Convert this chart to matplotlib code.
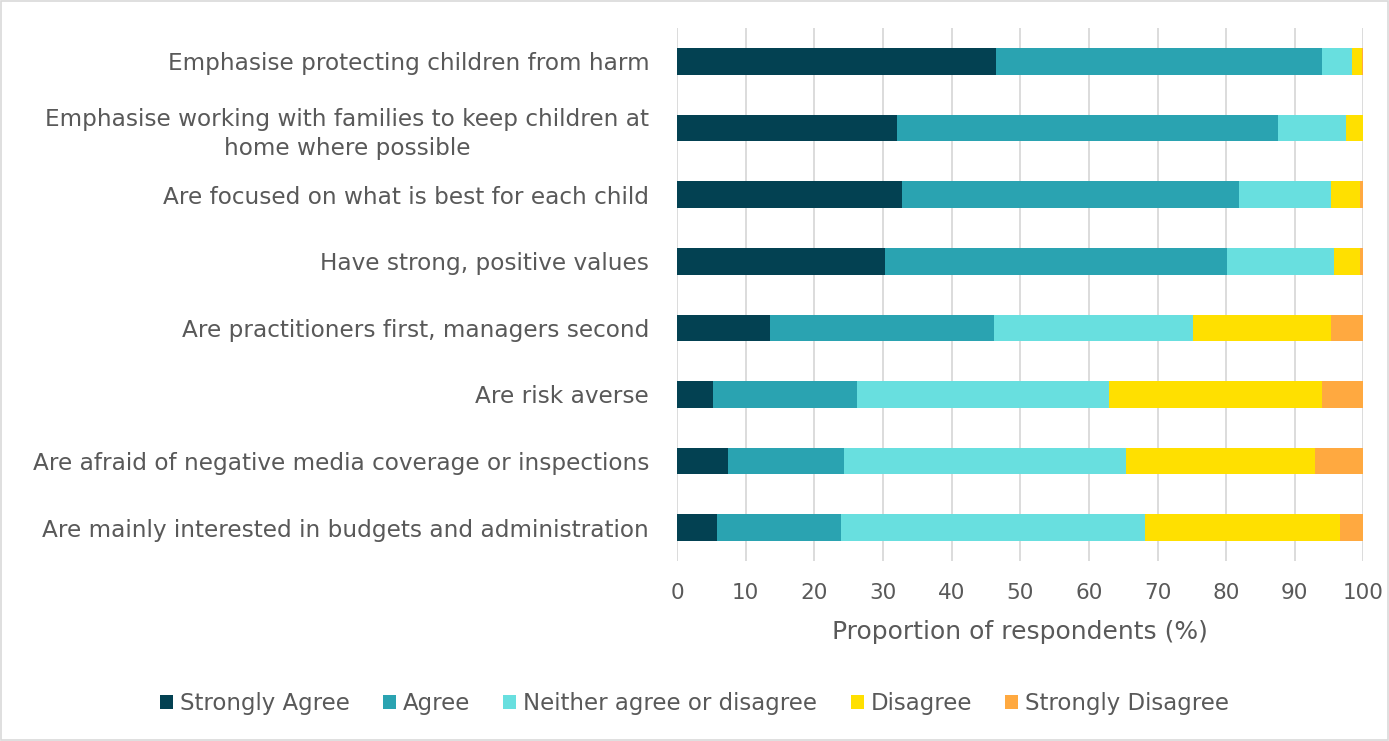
import numpy as np
import matplotlib.pyplot as plt
from matplotlib.patches import Rectangle

plt.rcParams['font.family'] = ['DejaVu Sans']

# categories, top to bottom
statements = [
    "Emphasise protecting children from harm",
    "Emphasise working with families to keep children at\nhome where possible",
    "Are focused on what is best for each child",
    "Have strong, positive values",
    "Are practitioners first, managers second",
    "Are risk averse",
    "Are afraid of negative media coverage or inspections",
    "Are mainly interested in budgets and administration",
]

# proportion of respondents (%) per response
strongly_agree = [46.5, 32.1, 32.8, 30.3, 13.6, 5.3, 7.4, 5.9]
agree = [47.4, 55.5, 49.0, 49.8, 32.6, 20.9, 17.0, 18.0]
neither = [4.4, 9.9, 13.5, 15.6, 28.9, 36.8, 41.0, 44.3]
disagree = [1.5, 2.5, 4.2, 3.8, 20.2, 31.0, 27.6, 28.4]
strongly_disagree = [0.2, 0.0, 0.5, 0.5, 4.7, 6.0, 7.0, 3.4]

series_names = ["Strongly Agree", "Agree", "Neither agree or disagree",
                "Disagree", "Strongly Disagree"]
colors = ["#034152", "#2AA3B1", "#68DFDF", "#FFE000", "#FFA940"]
text_col = "#595959"

fig = plt.figure(figsize=(13.89, 7.41), dpi=100)
ax = fig.add_axes([0.4874, 0.243, 0.4942, 0.719])

y = np.arange(len(statements))
left = np.zeros(len(statements))
for vals, name, c in zip([strongly_agree, agree, neither, disagree, strongly_disagree],
                         series_names, colors):
    ax.barh(y, vals, left=left, height=0.4, color=c, label=name)
    left += np.array(vals)

ax.set_ylim(len(statements) - 0.5, -0.5)
ax.set_xlim(0, 100)
ax.set_xticks(range(0, 101, 10))
ax.set_yticks(y)
ax.set_yticklabels(statements, multialignment='center', fontsize=16.7, linespacing=1.35)
ax.tick_params(axis='both', length=0, labelcolor=text_col)
ax.tick_params(axis='x', labelsize=15.5, pad=16)
ax.tick_params(axis='y', pad=20)
ax.xaxis.grid(True, color="#D9D9D9", linewidth=1.3)
ax.set_axisbelow(True)
for s in ax.spines.values():
    s.set_visible(False)
ax.set_xlabel("Proportion of respondents (%)", fontsize=18, color=text_col, labelpad=12)

leg = fig.legend(loc='center', bbox_to_anchor=(0.5, 0.051), ncol=5, frameon=False,
                 fontsize=16.5, handlelength=0.57, handleheight=0.57, handletextpad=0.3,
                 columnspacing=1.45)
for t in leg.get_texts():
    t.set_color(text_col)

fig.patches.append(Rectangle((0.0005, 0.0015), 0.999, 0.997, transform=fig.transFigure,
                             fill=False, edgecolor="#D9D9D9", linewidth=1.2))

fig.savefig("out.png", dpi=100)
